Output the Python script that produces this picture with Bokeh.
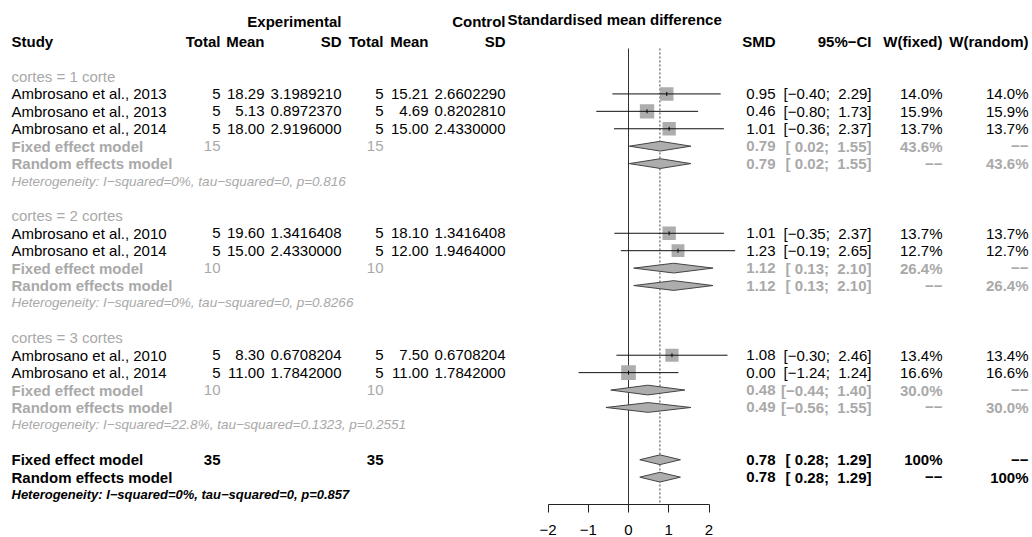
import numpy as np
from bokeh.plotting import figure
from bokeh.layouts import row
from bokeh.models import ColumnDataSource, Range1d, FixedTicker
from bokeh.core.properties import value
from bokeh.embed import file_html
from bokeh.resources import INLINE

# ---------------- data ----------------
group_labels = ["cortes = 1 corte", "cortes = 2 cortes", "cortes = 3 cortes"]
study = ["Ambrosano et al., 2013", "Ambrosano et al., 2013", "Ambrosano et al., 2014",
         "Ambrosano et al., 2010", "Ambrosano et al., 2014",
         "Ambrosano et al., 2010", "Ambrosano et al., 2014"]
study_group = [0, 0, 0, 1, 1, 2, 2]
exp_total = [5, 5, 5, 5, 5, 5, 5]
exp_mean = [18.29, 5.13, 18.00, 19.60, 15.00, 8.30, 11.00]
exp_sd = [3.1989210, 0.8972370, 2.9196000, 1.3416408, 2.4330000, 0.6708204, 1.7842000]
ctrl_total = [5, 5, 5, 5, 5, 5, 5]
ctrl_mean = [15.21, 4.69, 15.00, 18.10, 12.00, 7.50, 11.00]
ctrl_sd = [2.6602290, 0.8202810, 2.4330000, 1.3416408, 1.9464000, 0.6708204, 1.7842000]
smd = [0.95, 0.46, 1.01, 1.01, 1.23, 1.08, 0.00]
ci_low = [-0.40, -0.80, -0.36, -0.35, -0.19, -0.30, -1.24]
ci_up = [2.29, 1.73, 2.37, 2.37, 2.65, 2.46, 1.24]
w_fixed = [14.0, 15.9, 13.7, 13.7, 12.7, 13.4, 16.6]
w_random = [14.0, 15.9, 13.7, 13.7, 12.7, 13.4, 16.6]

grp_exp_total = [15, 10, 10]
grp_ctrl_total = [15, 10, 10]
grp_fixed_smd = [0.79, 1.12, 0.48]
grp_fixed_low = [0.02, 0.13, -0.44]
grp_fixed_up = [1.55, 2.10, 1.40]
grp_fixed_w = [43.6, 26.4, 30.0]
grp_random_smd = [0.79, 1.12, 0.49]
grp_random_low = [0.02, 0.13, -0.56]
grp_random_up = [1.55, 2.10, 1.55]
grp_random_w = [43.6, 26.4, 30.0]
grp_het = ["Heterogeneity: I\u2212squared=0%, tau\u2212squared=0, p=0.816",
           "Heterogeneity: I\u2212squared=0%, tau\u2212squared=0, p=0.8266",
           "Heterogeneity: I\u2212squared=22.8%, tau\u2212squared=0.1323, p=0.2551"]

ov_exp_total = 35
ov_ctrl_total = 35
ov_fixed = [0.78, 0.28, 1.29]
ov_random = [0.78, 0.28, 1.29]
ov_het = "Heterogeneity: I\u2212squared=0%, tau\u2212squared=0, p=0.857"

# ---------------- style / layout ----------------
FONT = "Liberation Sans"
FS = "15px"
HET_FS = "13.5px"
HET_FS_BOLD = "13px"
GRAY = "#A9A9A9"
MINUS = "\u2212"
DASHES = "\u2212\u2212"
ROW_PX = 17.42
Y_ROW0 = 76.0          # canvas y of first body row
H = 537
BOTTOM = 33
K_TOP = (0 - Y_ROW0) / ROW_PX
K_BOT = (H - BOTTOM - Y_ROW0) / ROW_PX

LEFT_W, MID_W, RIGHT_W = 506, 230, 296
ZERO_PX, UNIT_PX = 628.0, 40.25
mid_x0 = LEFT_W
mid_x1 = mid_x0 + MID_W

yr = Range1d(start=K_BOT, end=K_TOP)


def fnum(v, d=2):
    return f"{v:.{d}f}".replace("-", MINUS)


def fci(lo, up):
    lo_s = f"{lo:5.2f}".replace("-", MINUS).replace(" ", "\u00a0")
    up_s = f"{up:5.2f}".replace("-", MINUS).replace(" ", "\u00a0")
    return f"[{lo_s}; {up_s}]"


def base_fig(w, xr, with_axis=False):
    p = figure(width=w, height=H, x_range=xr, y_range=yr, output_backend="svg",
               toolbar_location=None, x_axis_type="linear" if with_axis else None,
               y_axis_type=None, min_border=0, min_border_bottom=BOTTOM,
               min_border_top=0, min_border_left=0, min_border_right=0)
    p.grid.visible = False
    p.outline_line_color = None
    p.background_fill_color = None
    p.border_fill_color = "white"
    return p


def add_text(p, xs, ys, texts, align, color="black", style="normal", size=FS, x_offset=0):
    src = ColumnDataSource(dict(x=list(xs), y=list(ys), text=list(texts)))
    p.text(x="x", y="y", text="text", source=src, text_align=align, text_baseline="middle",
           text_font=value(FONT), text_font_size=value(size), text_font_style=style,
           text_color=color, x_offset=x_offset)


# row indices
k = 0
study_k, grp_label_k, grp_fixed_k, grp_random_k, grp_het_k = [], [], [], [], []
for g in range(len(group_labels)):
    grp_label_k.append(k); k += 1
    for i, sg in enumerate(study_group):
        if sg == g:
            study_k.append(k); k += 1
    grp_fixed_k.append(k); k += 1
    grp_random_k.append(k); k += 1
    grp_het_k.append(k); k += 2
ov_fixed_k, ov_random_k, ov_het_k = k, k + 1, k + 2

# ---------------- left table ----------------
left = base_fig(LEFT_W, Range1d(0, LEFT_W))
X_STUDY, X_ET, X_EM, X_ES, X_CT, X_CM, X_CS = 11, 220, 264, 341, 383, 428, 505
add_text(left, [X_ES, X_CS], [-3.15, -3.15], ["Experimental", "Control"], "right", style="bold")
add_text(left, [X_STUDY], [-2], ["Study"], "left", style="bold")
add_text(left, [X_ET, X_EM, X_ES, X_CT, X_CM, X_CS], [-2] * 6,
         ["Total", "Mean", "SD", "Total", "Mean", "SD"], "right", style="bold")
add_text(left, [X_STUDY] * 3, grp_label_k, group_labels, "left", color=GRAY)
add_text(left, [X_STUDY] * len(study), study_k, study, "left")
add_text(left, [X_ET] * len(study), study_k, [str(v) for v in exp_total], "right")
add_text(left, [X_EM] * len(study), study_k, [fnum(v) for v in exp_mean], "right")
add_text(left, [X_ES] * len(study), study_k, [fnum(v, 7) for v in exp_sd], "right")
add_text(left, [X_CT] * len(study), study_k, [str(v) for v in ctrl_total], "right")
add_text(left, [X_CM] * len(study), study_k, [fnum(v) for v in ctrl_mean], "right")
add_text(left, [X_CS] * len(study), study_k, [fnum(v, 7) for v in ctrl_sd], "right")
add_text(left, [X_STUDY] * 3, grp_fixed_k, ["Fixed effect model"] * 3, "left", color=GRAY, style="bold")
add_text(left, [X_STUDY] * 3, grp_random_k, ["Random effects model"] * 3, "left", color=GRAY, style="bold")
add_text(left, [X_ET] * 3, grp_fixed_k, [str(v) for v in grp_exp_total], "right", color=GRAY)
add_text(left, [X_CT] * 3, grp_fixed_k, [str(v) for v in grp_ctrl_total], "right", color=GRAY)
add_text(left, [X_STUDY] * 3, grp_het_k, grp_het, "left", color=GRAY, style="italic", size=HET_FS)
add_text(left, [X_STUDY, X_STUDY], [ov_fixed_k, ov_random_k],
         ["Fixed effect model", "Random effects model"], "left", style="bold")
add_text(left, [X_ET, X_CT], [ov_fixed_k, ov_fixed_k], [str(ov_exp_total), str(ov_ctrl_total)],
         "right", style="bold")
add_text(left, [X_STUDY], [ov_het_k], [ov_het], "left", style="bold italic", size=HET_FS_BOLD)

# ---------------- forest (middle) ----------------
mid = base_fig(MID_W, Range1d((mid_x0 - ZERO_PX) / UNIT_PX, (mid_x1 - ZERO_PX) / UNIT_PX), with_axis=True)
ax = mid.xaxis[0]
ax.ticker = FixedTicker(ticks=[-2, -1, 0, 1, 2])
ax.bounds = (-2, 2)
ax.major_label_overrides = {-2: MINUS + "2", -1: MINUS + "1", 0: "0", 1: "1", 2: "2"}
ax.major_tick_in = 0
ax.major_tick_out = 8
ax.minor_tick_out = 0
ax.minor_tick_in = 0
ax.major_label_standoff = 12
ax.major_label_text_font = FONT
ax.major_label_text_font_size = FS
ax.major_label_text_line_height = 0.8
ax.major_label_text_color = "black"
ax.axis_line_color = "#222222"
ax.major_tick_line_color = "#222222"

add_text(mid, [mid.x_range.start], [-3.3], ["Standardised mean difference"], "left", style="bold", x_offset=1)

line_top = -1.61
mid.segment(x0=[0], y0=[line_top], x1=[0], y1=[K_BOT], line_color="#333333", line_width=1)
mid.segment(x0=[ov_fixed[0]], y0=[line_top], x1=[ov_fixed[0]], y1=[K_BOT],
            line_color="#444444", line_width=1, line_dash="2 2")

sq_size = [3.6 * np.sqrt(w) for w in w_fixed]
mid.scatter(x=smd, y=study_k, marker="square", size=sq_size, fill_color="#ADADAD", line_color=None)
mid.segment(x0=ci_low, y0=study_k, x1=ci_up, y1=study_k, line_color="#111111", line_width=1)
mid.scatter(x=smd, y=study_k, marker="dash", angle=np.pi / 2, size=4, line_color="black", line_width=1)

HALF = 0.28
d_x, d_y = [], []
for est, lo, up, kk in list(zip(grp_fixed_smd, grp_fixed_low, grp_fixed_up, grp_fixed_k)) + \
        list(zip(grp_random_smd, grp_random_low, grp_random_up, grp_random_k)) + \
        [(ov_fixed[0], ov_fixed[1], ov_fixed[2], ov_fixed_k),
         (ov_random[0], ov_random[1], ov_random[2], ov_random_k)]:
    d_x.append([lo, est, up, est])
    d_y.append([kk, kk - HALF, kk, kk + HALF])
mid.patches(xs=d_x, ys=d_y, fill_color="#ADADAD", line_color="#444444", line_width=1)

# ---------------- right table ----------------
right = base_fig(RIGHT_W, Range1d(mid_x1, mid_x1 + RIGHT_W))
X_SMD, X_CI, X_WF, X_WR = 775, 871, 942, 1028
add_text(right, [X_SMD, X_CI, X_WF, X_WR], [-2] * 4,
         ["SMD", "95%" + MINUS + "CI", "W(fixed)", "W(random)"], "right", style="bold")
add_text(right, [X_SMD] * len(study), study_k, [fnum(v) for v in smd], "right")
add_text(right, [X_CI] * len(study), study_k, [fci(a, b) for a, b in zip(ci_low, ci_up)], "right")
add_text(right, [X_WF] * len(study), study_k, [f"{v:.1f}%" for v in w_fixed], "right")
add_text(right, [X_WR] * len(study), study_k, [f"{v:.1f}%" for v in w_random], "right")

add_text(right, [X_SMD] * 3, grp_fixed_k, [fnum(v) for v in grp_fixed_smd], "right", color=GRAY, style="bold")
add_text(right, [X_CI] * 3, grp_fixed_k, [fci(a, b) for a, b in zip(grp_fixed_low, grp_fixed_up)], "right", color=GRAY, style="bold")
add_text(right, [X_WF] * 3, grp_fixed_k, [f"{v:.1f}%" for v in grp_fixed_w], "right", color=GRAY, style="bold")
add_text(right, [X_WR] * 3, grp_fixed_k, [DASHES] * 3, "right", color=GRAY, style="bold")
add_text(right, [X_SMD] * 3, grp_random_k, [fnum(v) for v in grp_random_smd], "right", color=GRAY, style="bold")
add_text(right, [X_CI] * 3, grp_random_k, [fci(a, b) for a, b in zip(grp_random_low, grp_random_up)], "right", color=GRAY, style="bold")
add_text(right, [X_WF] * 3, grp_random_k, [DASHES] * 3, "right", color=GRAY, style="bold")
add_text(right, [X_WR] * 3, grp_random_k, [f"{v:.1f}%" for v in grp_random_w], "right", color=GRAY, style="bold")

add_text(right, [X_SMD, X_SMD], [ov_fixed_k, ov_random_k], [fnum(ov_fixed[0]), fnum(ov_random[0])], "right", style="bold")
add_text(right, [X_CI, X_CI], [ov_fixed_k, ov_random_k],
         [fci(ov_fixed[1], ov_fixed[2]), fci(ov_random[1], ov_random[2])], "right", style="bold")
add_text(right, [X_WF, X_WF], [ov_fixed_k, ov_random_k], ["100%", DASHES], "right", style="bold")
add_text(right, [X_WR, X_WR], [ov_fixed_k, ov_random_k], [DASHES, "100%"], "right", style="bold")

layout = row(left, mid, right, spacing=0)
open("out.html", "w").write(file_html(layout, INLINE))
